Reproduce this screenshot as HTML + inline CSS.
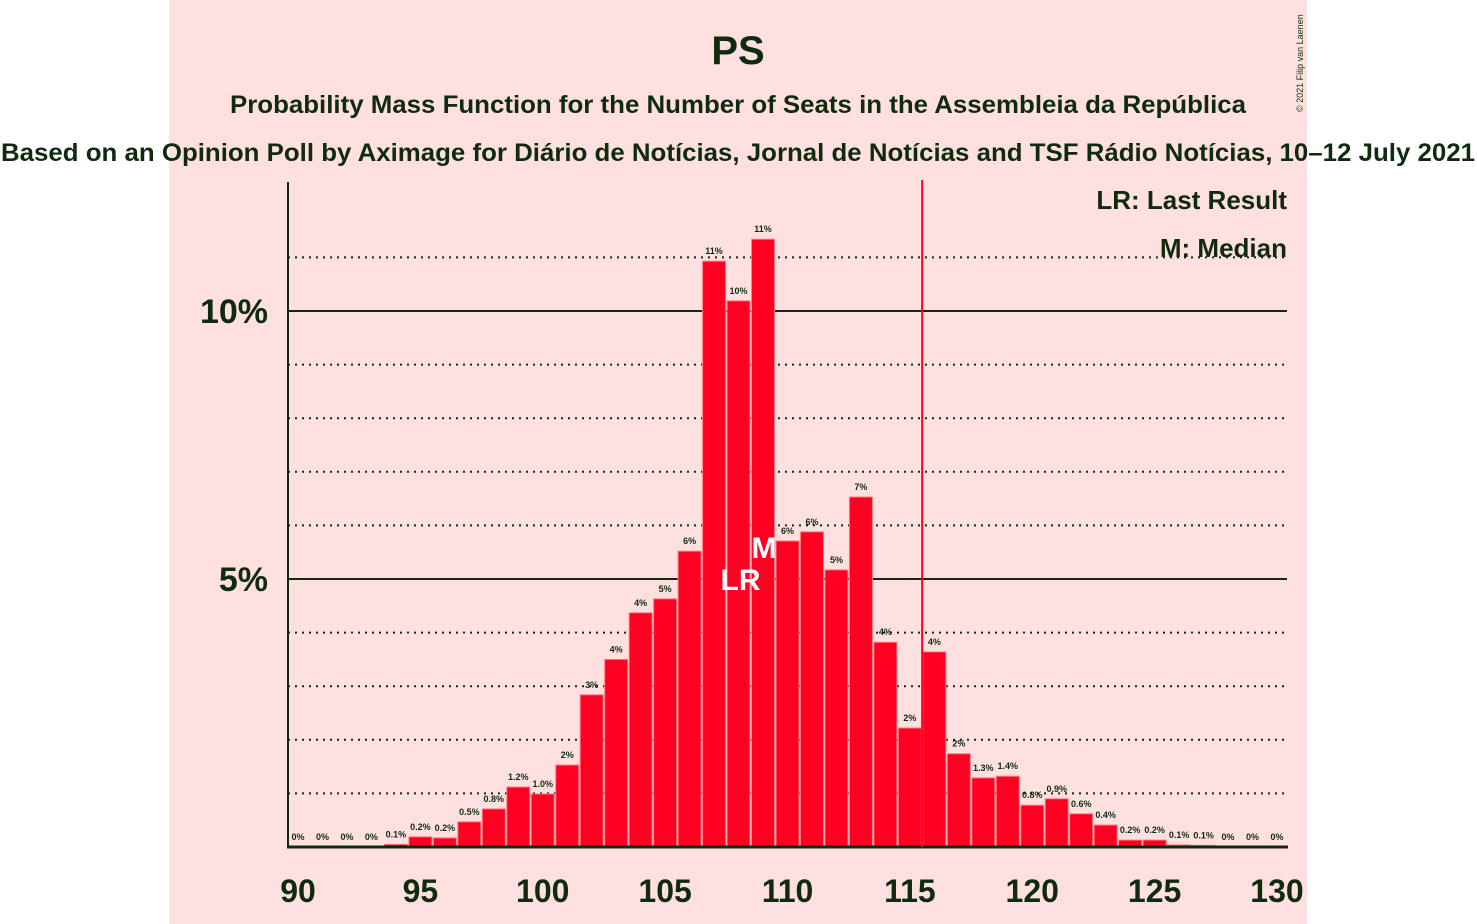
<!DOCTYPE html>
<html><head><meta charset="utf-8"><style>
body{margin:0;background:#fff;}
svg{display:block;font-family:"Liberation Sans",sans-serif;}
</style></head><body>
<svg width="1477" height="924">
<rect x="169" y="0" width="1138" height="924" fill="#FFE0E0"/>
<text x="738" y="64" text-anchor="middle" font-size="40" font-weight="bold" fill="#0f2a0f">PS</text>
<text x="738" y="113" text-anchor="middle" font-size="25" font-weight="bold" fill="#0f2a0f" textLength="1016" lengthAdjust="spacingAndGlyphs">Probability Mass Function for the Number of Seats in the Assembleia da República</text>
<text x="738" y="161" text-anchor="middle" font-size="25" font-weight="bold" fill="#0f2a0f" textLength="1474" lengthAdjust="spacingAndGlyphs">Based on an Opinion Poll by Aximage for Diário de Notícias, Jornal de Notícias and TSF Rádio Notícias, 10–12 July 2021</text>
<text transform="translate(1303,112) rotate(-90)" font-size="9" fill="#0f2a0f">© 2021 Filip van Laenen</text>
<g id="grid"></g>
<g id="bars"></g>
<g id="labels"></g>
<line x1="288" y1="182" x2="288" y2="848" stroke="#0f2a0f" stroke-width="2"/>
<line x1="287" y1="847" x2="1288" y2="847" stroke="#0f2a0f" stroke-width="3"/>
<text x="1287" y="209" text-anchor="end" font-size="26" font-weight="bold" fill="#0f2a0f">LR: Last Result</text>
<text x="1287" y="257" text-anchor="end" font-size="26" font-weight="bold" fill="#0f2a0f">M: Median</text>
</svg>
<script>
const seats=[90,91,92,93,94,95,96,97,98,99,100,101,102,103,104,105,106,107,108,109,110,111,112,113,114,115,116,117,118,119,120,121,122,123,124,125,126,127,128,129,130];
const probs=[0,0,0,0,0.05,0.19,0.17,0.47,0.71,1.12,0.99,1.53,2.84,3.5,4.37,4.63,5.52,10.93,10.19,11.34,5.71,5.88,5.17,6.53,3.82,2.22,3.64,1.74,1.29,1.32,0.78,0.9,0.62,0.41,0.13,0.13,0.04,0.03,0,0,0];
const labelsTxt=["0%","0%","0%","0%","0.1%","0.2%","0.2%","0.5%","0.8%","1.2%","1.0%","2%","3%","4%","4%","5%","6%","11%","10%","11%","6%","6%","5%","7%","4%","2%","4%","2%","1.3%","1.4%","0.8%","0.9%","0.6%","0.4%","0.2%","0.2%","0.1%","0.1%","0%","0%","0%"];
const xTicks=[90,95,100,105,110,115,120,125,130];
const yTicks=[5,10];
const lastResult=116, median=109;
const NS="http://www.w3.org/2000/svg";
const xs=s=>298+(s-90)*24.475;
const ys=v=>847-v*53.6;
function mk(t,a,p){const e=document.createElementNS(NS,t);for(const k in a)e.setAttribute(k,a[k]);p.appendChild(e);return e;}
const svg=document.querySelector('svg'),grid=document.getElementById('grid'),bars=document.getElementById('bars'),lab=document.getElementById('labels');
for(let v=1;v<=11;v++){
 const l=mk('line',{x1:288,x2:1287,y1:ys(v),y2:ys(v),stroke:'#0f2a0f','stroke-width':v%5==0?2:2,'stroke-dasharray':v%5==0?'none':'2,5'},grid);
 
 
}
yTicks.forEach(v=>{const t=mk('text',{x:268,y:ys(v)+12,'text-anchor':'end','font-size':34,'font-weight':'bold',fill:'#0f2a0f'},svg);t.textContent=v+'%';
 
 });
xTicks.forEach(s=>{const t=mk('text',{x:xs(s),y:902,'text-anchor':'middle','font-size':32,'font-weight':'bold',fill:'#0f2a0f'},svg);t.textContent=s;
 
 });
seats.forEach((s,i)=>{
 const v=probs[i];
 if(v>0){const r=mk('rect',{x:xs(s)-11.5,y:ys(v),width:23,height:847-ys(v),fill:'#FF0022',stroke:'#ff8080','stroke-width':1},bars);
 
 }
 const t=mk('text',{x:xs(s),y:ys(v)-7,'text-anchor':'middle','font-size':9,'font-weight':'bold',fill:'#0f2a0f'},lab);
 t.textContent=labelsTxt[i];
 
 
});
const lr=mk('line',{x1:xs(lastResult)-12.2,x2:xs(lastResult)-12.2,y1:180,y2:847,stroke:'#FF0022','stroke-width':2},svg);


const lrt=mk('text',{x:xs(108)+2,y:590,'text-anchor':'middle','font-size':30,'font-weight':'bold',fill:'#fff'},svg);lrt.textContent='LR';


const mt=mk('text',{x:xs(median)+1,y:558,'text-anchor':'middle','font-size':30,'font-weight':'bold',fill:'#fff'},svg);mt.textContent='M';


</script>
</body></html>
